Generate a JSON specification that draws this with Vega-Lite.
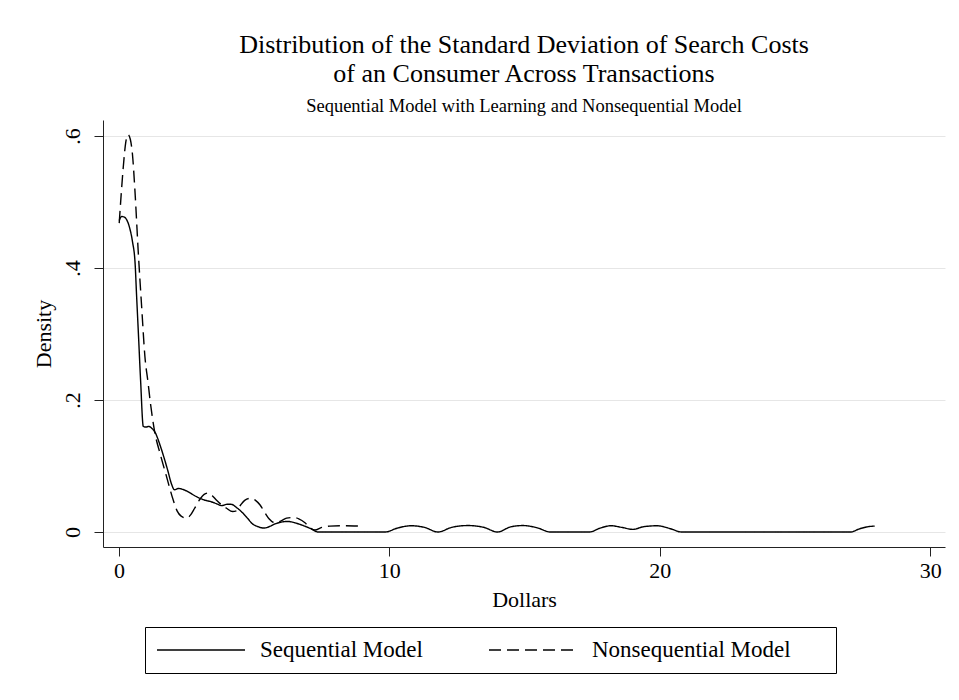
{
  "$schema": "https://vega.github.io/schema/vega-lite/v6.json",
  "autosize": {"type": "none"},
  "padding": {"left": 103, "top": 120, "right": 14, "bottom": 153},
  "width": 842,
  "height": 427,
  "background": "white",
  "config": {
    "view": {"stroke": null},
    "font": "Liberation Serif",
    "axis": {"labelFont": "Liberation Serif", "titleFont": "Liberation Serif", "labelColor": "black", "titleColor": "black", "titleFontWeight": "normal", "domainColor": "#222", "tickColor": "#222", "tickSize": 9, "labelFontSize": 22, "titleFontSize": 22},
    "legend": {"labelFont": "Liberation Serif"}
  },
  "title": {
    "text": ["Distribution of the Standard Deviation of Search Costs", "of an Consumer Across Transactions"],
    "subtitle": "Sequential Model with Learning and Nonsequential Model",
    "anchor": "middle",
    "frame": "group",
    "font": "Liberation Serif",
    "fontSize": 26,
    "fontWeight": "normal",
    "lineHeight": 29,
    "color": "black",
    "subtitleFont": "Liberation Serif",
    "subtitleFontSize": 18.5,
    "subtitleColor": "black",
    "subtitlePadding": 10,
    "offset": 5
  },
  "data": {
    "values": [
      {"model": "Sequential Model", "x": 0.01, "y": 0.472},
      {"model": "Sequential Model", "x": 0.1, "y": 0.478},
      {"model": "Sequential Model", "x": 0.2, "y": 0.477},
      {"model": "Sequential Model", "x": 0.3, "y": 0.472},
      {"model": "Sequential Model", "x": 0.4, "y": 0.46},
      {"model": "Sequential Model", "x": 0.5, "y": 0.44},
      {"model": "Sequential Model", "x": 0.6, "y": 0.405},
      {"model": "Sequential Model", "x": 0.65, "y": 0.36},
      {"model": "Sequential Model", "x": 0.72, "y": 0.3},
      {"model": "Sequential Model", "x": 0.8, "y": 0.23},
      {"model": "Sequential Model", "x": 0.9, "y": 0.16},
      {"model": "Sequential Model", "x": 1.0, "y": 0.159},
      {"model": "Sequential Model", "x": 1.1, "y": 0.16},
      {"model": "Sequential Model", "x": 1.22, "y": 0.157},
      {"model": "Sequential Model", "x": 1.35, "y": 0.15},
      {"model": "Sequential Model", "x": 1.5, "y": 0.134},
      {"model": "Sequential Model", "x": 1.65, "y": 0.115},
      {"model": "Sequential Model", "x": 1.8, "y": 0.094},
      {"model": "Sequential Model", "x": 1.95, "y": 0.072},
      {"model": "Sequential Model", "x": 2.05, "y": 0.064},
      {"model": "Sequential Model", "x": 2.2, "y": 0.066},
      {"model": "Sequential Model", "x": 2.4, "y": 0.064},
      {"model": "Sequential Model", "x": 2.6, "y": 0.06},
      {"model": "Sequential Model", "x": 2.8, "y": 0.055},
      {"model": "Sequential Model", "x": 3.0, "y": 0.051},
      {"model": "Sequential Model", "x": 3.2, "y": 0.048},
      {"model": "Sequential Model", "x": 3.4, "y": 0.046},
      {"model": "Sequential Model", "x": 3.6, "y": 0.043},
      {"model": "Sequential Model", "x": 3.8, "y": 0.04},
      {"model": "Sequential Model", "x": 4.0, "y": 0.042},
      {"model": "Sequential Model", "x": 4.15, "y": 0.042},
      {"model": "Sequential Model", "x": 4.35, "y": 0.037},
      {"model": "Sequential Model", "x": 4.55, "y": 0.03},
      {"model": "Sequential Model", "x": 4.75, "y": 0.021},
      {"model": "Sequential Model", "x": 4.95, "y": 0.012},
      {"model": "Sequential Model", "x": 5.15, "y": 0.008},
      {"model": "Sequential Model", "x": 5.35, "y": 0.006},
      {"model": "Sequential Model", "x": 5.55, "y": 0.008},
      {"model": "Sequential Model", "x": 5.75, "y": 0.012},
      {"model": "Sequential Model", "x": 6.0, "y": 0.015},
      {"model": "Sequential Model", "x": 6.25, "y": 0.016},
      {"model": "Sequential Model", "x": 6.5, "y": 0.014},
      {"model": "Sequential Model", "x": 6.8, "y": 0.01},
      {"model": "Sequential Model", "x": 7.1, "y": 0.005},
      {"model": "Sequential Model", "x": 7.37, "y": 0.0},
      {"model": "Sequential Model", "x": 9.84, "y": 0.0},
      {"model": "Sequential Model", "x": 10.3, "y": 0.006},
      {"model": "Sequential Model", "x": 10.8, "y": 0.0095},
      {"model": "Sequential Model", "x": 11.3, "y": 0.007},
      {"model": "Sequential Model", "x": 11.8, "y": 0.0},
      {"model": "Sequential Model", "x": 12.3, "y": 0.007},
      {"model": "Sequential Model", "x": 12.9, "y": 0.0098},
      {"model": "Sequential Model", "x": 13.5, "y": 0.007},
      {"model": "Sequential Model", "x": 14.0, "y": 0.0},
      {"model": "Sequential Model", "x": 14.5, "y": 0.008},
      {"model": "Sequential Model", "x": 14.95, "y": 0.0098},
      {"model": "Sequential Model", "x": 15.5, "y": 0.006},
      {"model": "Sequential Model", "x": 15.95, "y": 0.0},
      {"model": "Sequential Model", "x": 17.4, "y": 0.0},
      {"model": "Sequential Model", "x": 17.8, "y": 0.006},
      {"model": "Sequential Model", "x": 18.2, "y": 0.0095},
      {"model": "Sequential Model", "x": 18.6, "y": 0.007},
      {"model": "Sequential Model", "x": 19.0, "y": 0.004},
      {"model": "Sequential Model", "x": 19.4, "y": 0.008},
      {"model": "Sequential Model", "x": 19.9, "y": 0.0095},
      {"model": "Sequential Model", "x": 20.4, "y": 0.005},
      {"model": "Sequential Model", "x": 20.8, "y": 0.0},
      {"model": "Sequential Model", "x": 27.05, "y": 0.0},
      {"model": "Sequential Model", "x": 27.4, "y": 0.005},
      {"model": "Sequential Model", "x": 27.7, "y": 0.008},
      {"model": "Sequential Model", "x": 27.95, "y": 0.009},
      {"model": "Nonsequential Model", "x": 0.01, "y": 0.468},
      {"model": "Nonsequential Model", "x": 0.08, "y": 0.51},
      {"model": "Nonsequential Model", "x": 0.16, "y": 0.553},
      {"model": "Nonsequential Model", "x": 0.25, "y": 0.59},
      {"model": "Nonsequential Model", "x": 0.34, "y": 0.602},
      {"model": "Nonsequential Model", "x": 0.42, "y": 0.595},
      {"model": "Nonsequential Model", "x": 0.5, "y": 0.572},
      {"model": "Nonsequential Model", "x": 0.59, "y": 0.518},
      {"model": "Nonsequential Model", "x": 0.71, "y": 0.427},
      {"model": "Nonsequential Model", "x": 0.84, "y": 0.341},
      {"model": "Nonsequential Model", "x": 0.96, "y": 0.266},
      {"model": "Nonsequential Model", "x": 1.08, "y": 0.225},
      {"model": "Nonsequential Model", "x": 1.15, "y": 0.2},
      {"model": "Nonsequential Model", "x": 1.33, "y": 0.15},
      {"model": "Nonsequential Model", "x": 1.52, "y": 0.119},
      {"model": "Nonsequential Model", "x": 1.76, "y": 0.084},
      {"model": "Nonsequential Model", "x": 2.01, "y": 0.048},
      {"model": "Nonsequential Model", "x": 2.15, "y": 0.032},
      {"model": "Nonsequential Model", "x": 2.3, "y": 0.024},
      {"model": "Nonsequential Model", "x": 2.5, "y": 0.021},
      {"model": "Nonsequential Model", "x": 2.65, "y": 0.026},
      {"model": "Nonsequential Model", "x": 2.8, "y": 0.036},
      {"model": "Nonsequential Model", "x": 3.0, "y": 0.05},
      {"model": "Nonsequential Model", "x": 3.15, "y": 0.057},
      {"model": "Nonsequential Model", "x": 3.3, "y": 0.059},
      {"model": "Nonsequential Model", "x": 3.45, "y": 0.055},
      {"model": "Nonsequential Model", "x": 3.61, "y": 0.048},
      {"model": "Nonsequential Model", "x": 3.8, "y": 0.041},
      {"model": "Nonsequential Model", "x": 3.98, "y": 0.036},
      {"model": "Nonsequential Model", "x": 4.2, "y": 0.031},
      {"model": "Nonsequential Model", "x": 4.35, "y": 0.032},
      {"model": "Nonsequential Model", "x": 4.5, "y": 0.041},
      {"model": "Nonsequential Model", "x": 4.65, "y": 0.048},
      {"model": "Nonsequential Model", "x": 4.85, "y": 0.051},
      {"model": "Nonsequential Model", "x": 5.05, "y": 0.048},
      {"model": "Nonsequential Model", "x": 5.22, "y": 0.041},
      {"model": "Nonsequential Model", "x": 5.4, "y": 0.029},
      {"model": "Nonsequential Model", "x": 5.55, "y": 0.02},
      {"model": "Nonsequential Model", "x": 5.77, "y": 0.014},
      {"model": "Nonsequential Model", "x": 6.0, "y": 0.017},
      {"model": "Nonsequential Model", "x": 6.2, "y": 0.021},
      {"model": "Nonsequential Model", "x": 6.45, "y": 0.022},
      {"model": "Nonsequential Model", "x": 6.65, "y": 0.02},
      {"model": "Nonsequential Model", "x": 6.88, "y": 0.014},
      {"model": "Nonsequential Model", "x": 7.05, "y": 0.007},
      {"model": "Nonsequential Model", "x": 7.25, "y": 0.003},
      {"model": "Nonsequential Model", "x": 7.5, "y": 0.007},
      {"model": "Nonsequential Model", "x": 7.8, "y": 0.009},
      {"model": "Nonsequential Model", "x": 8.3, "y": 0.0095},
      {"model": "Nonsequential Model", "x": 8.85, "y": 0.009}
    ]
  },
  "mark": {"type": "line", "color": "black", "strokeWidth": 1.4, "interpolate": "monotone"},
  "encoding": {
    "x": {
      "field": "x", "type": "quantitative",
      "scale": {"domain": [-0.59, 30.55], "nice": false, "zero": false},
      "axis": {"values": [0, 10, 20, 30], "grid": false, "title": "Dollars", "labelPadding": 4, "titlePadding": 8}
    },
    "y": {
      "field": "y", "type": "quantitative",
      "scale": {"domain": [-0.0227, 0.6242], "nice": false, "zero": false},
      "axis": {"values": [0, 0.2, 0.4, 0.6], "grid": true, "gridColor": "#e6e6e6", "gridWidth": 1, "labelAngle": 270, "labelPadding": 10, "labelExpr": "datum.value == 0 ? '0' : '.' + round(datum.value * 10)", "title": "Density", "titlePadding": 6}
    },
    "strokeDash": {
      "field": "model", "type": "nominal",
      "scale": {"domain": ["Sequential Model", "Nonsequential Model"], "range": [[1, 0], [12, 6]]},
      "legend": {
        "orient": "none", "legendX": 42, "legendY": 507, "direction": "horizontal", "title": null,
        "strokeColor": "black", "fillColor": "white", "padding": 11,
        "symbolType": "M-4,0H4", "symbolSize": 484, "symbolOffset": 33, "symbolStrokeWidth": 1.5, "symbolStrokeColor": "black",
        "labelFontSize": 23, "labelColor": "black", "labelOffset": 47, "columnPadding": 63, "labelLimit": 400,
        "labelExpr": "datum.label == 'Nonsequential Model' ? datum.label + '\u2800\u2800' : datum.label"
      }
    }
  }
}
